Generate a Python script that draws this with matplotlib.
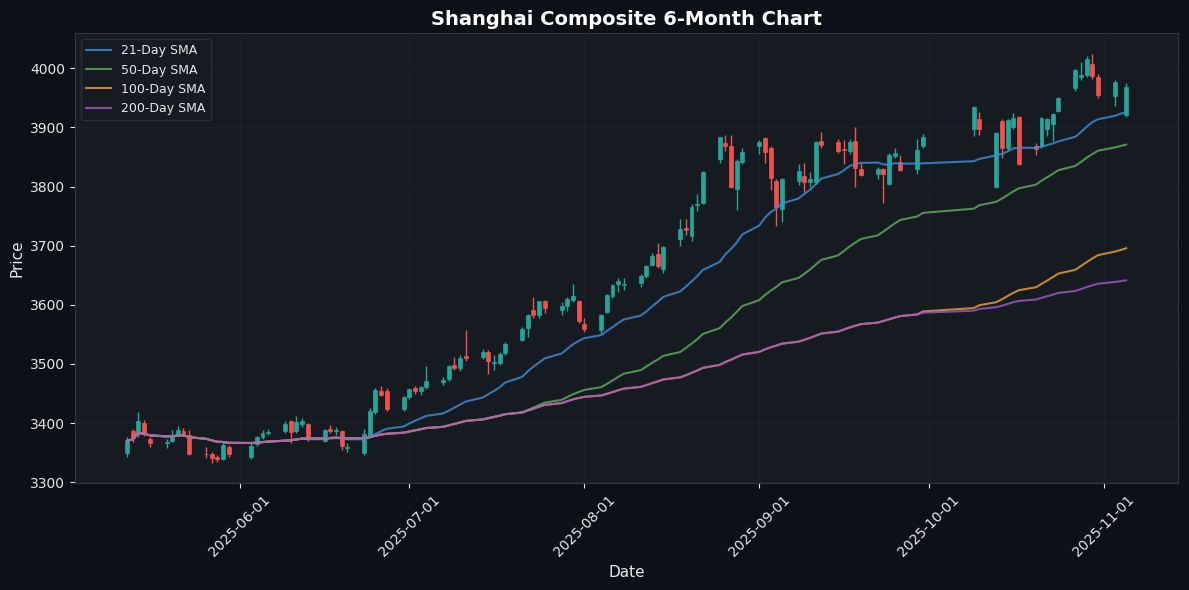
import numpy as np
import pandas as pd
import matplotlib
matplotlib.use("Agg")
import matplotlib.pyplot as plt
import matplotlib.dates as mdates

# ---- data ----
dates = [
    "2025-05-12", "2025-05-13", "2025-05-14", "2025-05-15", "2025-05-16",
    "2025-05-19", "2025-05-20", "2025-05-21", "2025-05-22", "2025-05-23",
    "2025-05-26", "2025-05-27", "2025-05-28", "2025-05-29", "2025-05-30",
    "2025-06-03", "2025-06-04", "2025-06-05", "2025-06-06",
    "2025-06-09", "2025-06-10", "2025-06-11", "2025-06-12", "2025-06-13",
    "2025-06-16", "2025-06-17", "2025-06-18", "2025-06-19", "2025-06-20",
    "2025-06-23", "2025-06-24", "2025-06-25", "2025-06-26", "2025-06-27",
    "2025-06-30", "2025-07-01", "2025-07-02", "2025-07-03", "2025-07-04",
    "2025-07-07", "2025-07-08", "2025-07-09", "2025-07-10", "2025-07-11",
    "2025-07-14", "2025-07-15", "2025-07-16", "2025-07-17", "2025-07-18",
    "2025-07-21", "2025-07-22", "2025-07-23", "2025-07-24", "2025-07-25",
    "2025-07-28", "2025-07-29", "2025-07-30", "2025-07-31", "2025-08-01",
    "2025-08-04", "2025-08-05", "2025-08-06", "2025-08-07", "2025-08-08",
    "2025-08-11", "2025-08-12", "2025-08-13", "2025-08-14", "2025-08-15",
    "2025-08-18", "2025-08-19", "2025-08-20", "2025-08-21", "2025-08-22",
    "2025-08-25", "2025-08-26", "2025-08-27", "2025-08-28", "2025-08-29",
    "2025-09-01", "2025-09-02", "2025-09-03", "2025-09-04", "2025-09-05",
    "2025-09-08", "2025-09-09", "2025-09-10", "2025-09-11", "2025-09-12",
    "2025-09-15", "2025-09-16", "2025-09-17", "2025-09-18", "2025-09-19",
    "2025-09-22", "2025-09-23", "2025-09-24", "2025-09-25", "2025-09-26",
    "2025-09-29", "2025-09-30",
    "2025-10-09", "2025-10-10",
    "2025-10-13", "2025-10-14", "2025-10-15", "2025-10-16", "2025-10-17",
    "2025-10-20", "2025-10-21", "2025-10-22", "2025-10-23", "2025-10-24",
    "2025-10-27", "2025-10-28", "2025-10-29", "2025-10-30", "2025-10-31",
    "2025-11-03", "2025-11-05",
]

opens = [
    3349, 3386, 3383, 3400, 3374, 3366, 3370, 3381, 3386, 3380,
    3348, 3347, 3342, 3340, 3360, 3343, 3365, 3377, 3383,
    3386, 3403, 3386, 3398, 3398, 3370, 3390, 3386, 3386, 3358,
    3350, 3380, 3418, 3455, 3455, 3424, 3444, 3460, 3455, 3461,
    3470, 3474, 3499, 3493, 3513, 3512, 3521, 3502, 3502, 3518,
    3541, 3561, 3591, 3583, 3606, 3592, 3598, 3608, 3606, 3568,
    3558, 3588, 3615, 3635, 3633, 3637, 3648, 3668, 3686, 3660,
    3712, 3730, 3716, 3768, 3772, 3847, 3873, 3869, 3796, 3841,
    3868, 3882, 3865, 3810, 3762, 3810, 3818, 3807, 3808, 3877,
    3876, 3864, 3860, 3877, 3829, 3822, 3829, 3805, 3852, 3841,
    3829, 3868, 3898, 3915, 3800, 3911, 3866, 3901, 3918,
    3868, 3869, 3897, 3905, 3928, 3967, 3986, 3988, 4008, 3986,
    3953, 3921,
]

highs = [
    3377, 3390, 3418, 3405, 3376, 3374, 3388, 3395, 3391, 3388,
    3360, 3352, 3346, 3368, 3363, 3366, 3378, 3388, 3390,
    3404, 3406, 3412, 3408, 3400, 3390, 3396, 3393, 3388, 3366,
    3390, 3425, 3460, 3463, 3460, 3446, 3458, 3462, 3463, 3496,
    3478, 3498, 3511, 3516, 3557, 3526, 3524, 3515, 3520, 3537,
    3562, 3585, 3614, 3607, 3609, 3605, 3613, 3636, 3608, 3578,
    3585, 3618, 3636, 3645, 3645, 3652, 3668, 3688, 3705, 3700,
    3745, 3746, 3770, 3788, 3826, 3884, 3888, 3888, 3846, 3866,
    3878, 3884, 3868, 3812, 3815, 3838, 3840, 3825, 3877, 3892,
    3880, 3878, 3880, 3900, 3842, 3833, 3831, 3856, 3866, 3853,
    3881, 3889, 3936, 3926, 3892, 3915, 3914, 3925, 3920,
    3873, 3918, 3916, 3925, 3951, 3999, 4010, 4020, 4025, 3990,
    3980, 3975,
]

lows = [
    3343, 3368, 3376, 3378, 3360, 3358, 3368, 3379, 3378, 3346,
    3341, 3333, 3335, 3337, 3343, 3340, 3362, 3374, 3380,
    3384, 3366, 3384, 3393, 3370, 3368, 3384, 3380, 3354, 3352,
    3346, 3378, 3416, 3446, 3420, 3420, 3440, 3450, 3448, 3458,
    3465, 3472, 3490, 3488, 3505, 3508, 3483, 3490, 3499, 3516,
    3539, 3546, 3577, 3578, 3586, 3583, 3590, 3605, 3570, 3554,
    3550, 3586, 3612, 3622, 3625, 3630, 3645, 3665, 3662, 3654,
    3700, 3718, 3708, 3758, 3770, 3840, 3860, 3798, 3760, 3838,
    3855, 3840, 3795, 3733, 3740, 3803, 3790, 3800, 3805, 3866,
    3856, 3838, 3855, 3800, 3818, 3813, 3773, 3802, 3848, 3826,
    3822, 3865, 3885, 3887, 3798, 3849, 3862, 3898, 3836,
    3853, 3866, 3886, 3877, 3926, 3962, 3980, 3985, 3982, 3950,
    3936, 3918,
]

closes = [
    3370, 3375, 3404, 3381, 3367, 3368, 3380, 3388, 3381, 3348,
    3347, 3341, 3340, 3363, 3347, 3362, 3376, 3384, 3385,
    3399, 3385, 3402, 3403, 3377, 3388, 3387, 3389, 3362, 3360,
    3381, 3421, 3456, 3448, 3424, 3444, 3457, 3455, 3461, 3472,
    3473, 3497, 3493, 3510, 3510, 3520, 3505, 3504, 3517, 3534,
    3560, 3582, 3582, 3606, 3594, 3598, 3610, 3615, 3573, 3560,
    3583, 3617, 3634, 3640, 3636, 3648, 3666, 3683, 3666, 3697,
    3728, 3727, 3766, 3771, 3825, 3883, 3868, 3800, 3844, 3858,
    3876, 3858, 3814, 3766, 3812, 3827, 3807, 3812, 3875, 3870,
    3860, 3862, 3876, 3832, 3820, 3829, 3822, 3854, 3856, 3828,
    3862, 3883, 3934, 3897, 3890, 3865, 3912, 3916, 3839,
    3864, 3916, 3914, 3922, 3950, 3997, 3988, 4016, 3987, 3955,
    3976, 3969,
]

sma_windows = [21, 50, 100, 200]
sma_colors = ["#3d8fd9", "#5fae5f", "#f0a030", "#a855c8"]

df = pd.DataFrame({"Open": opens, "High": highs, "Low": lows, "Close": closes},
                  index=pd.to_datetime(dates))

# ---- style ----
fig_bg = "#0d1117"
ax_bg = "#161b22"
txt = "#e6e6e6"
up_col = "#26a69a"
down_col = "#ef5350"

fig, ax = plt.subplots(figsize=(11.89, 5.90), dpi=100)
fig.patch.set_facecolor(fig_bg)
ax.set_facecolor(ax_bg)

x = mdates.date2num(df.index.to_pydatetime())
up = df["Close"] >= df["Open"]
cols = np.where(up, up_col, down_col)

# wicks then bodies
ax.vlines(x, df["Low"], df["High"], colors=cols, linewidth=1.0, zorder=2)
body_bottom = np.minimum(df["Open"], df["Close"])
body_height = np.abs(df["Close"] - df["Open"])
ax.bar(x, body_height, bottom=body_bottom, width=0.7, color=cols,
       edgecolor=cols, linewidth=0.5, zorder=3)

# moving averages (min_periods=1 so all four start together)
for w, c in zip(sma_windows, sma_colors):
    sma = df["Close"].rolling(window=w, min_periods=1).mean()
    ax.plot(x, sma, color=c, linewidth=1.5, alpha=0.8, label=f"{w}-Day SMA", zorder=4)

ax.set_title("Shanghai Composite 6-Month Chart", color="white", fontsize=14,
             fontweight="bold")
ax.set_xlabel("Date", color=txt, fontsize=11)
ax.set_ylabel("Price", color=txt, fontsize=11)

ax.xaxis.set_major_locator(mdates.MonthLocator())
ax.xaxis.set_major_formatter(mdates.DateFormatter("%Y-%m-%d"))
plt.setp(ax.get_xticklabels(), rotation=45)
ax.tick_params(colors=txt, labelsize=10)
for s in ax.spines.values():
    s.set_color("#30363d")
ax.grid(True, color="#2a2f36", linewidth=0.6, alpha=0.4)

leg = ax.legend(loc="upper left", facecolor=ax_bg, edgecolor="#30363d",
                fontsize=9)
for t in leg.get_texts():
    t.set_color(txt)

ax.margins(x=0.05)
plt.subplots_adjust(left=0.063, right=0.991, top=0.944, bottom=0.181)
plt.savefig("out.png", facecolor=fig.get_facecolor())
